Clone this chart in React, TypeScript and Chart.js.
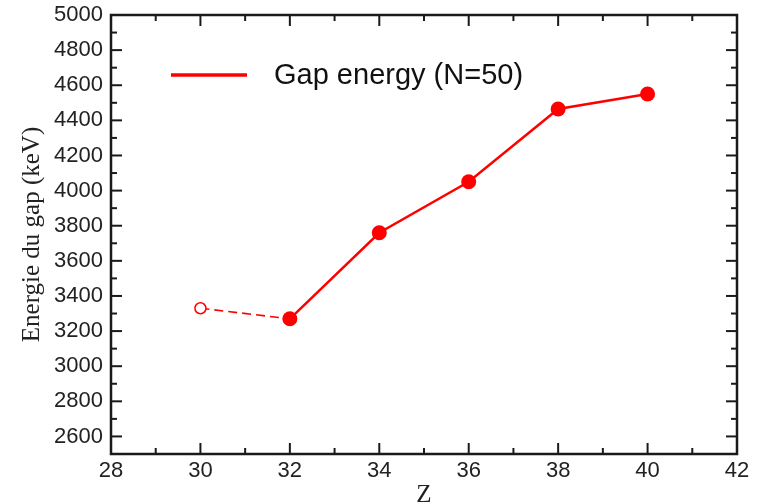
import React, { useEffect, useRef } from "react";
import { Chart, registerables } from "chart.js";

Chart.register(...registerables);

// ---- Data ----
const zValues = [30, 32, 34, 36, 38, 40];
const gapEnergies = [3330, 3270, 3760, 4050, 4465, 4550];
const openMarker = [true, false, false, false, false, false];
const seriesLabel = "Gap energy (N=50)";
const xTitle = "Z";
const yTitle = "Energie du gap (keV)";
const xMajorTicks = [28, 30, 32, 34, 36, 38, 40, 42];
const xMinorTicks = [29, 31, 33, 35, 37, 39, 41];
const yMajorTicks = [2600, 2800, 3000, 3200, 3400, 3600, 3800, 4000, 4200, 4400, 4600, 4800, 5000];
const yMinorTicks = [2700, 2900, 3100, 3300, 3500, 3700, 3900, 4100, 4300, 4500, 4700, 4900];

const RED = "#ff0000";
const SANS = "'Liberation Sans', Arial, sans-serif";
const SERIF = "'Liberation Serif', 'Times New Roman', serif";

const framePlugin = {
  id: "frame",
  beforeDatasetsDraw(chart: any) {
    const { ctx, chartArea, scales } = chart;
    const { left, right, top, bottom } = chartArea;
    const x = scales.x;
    const y = scales.y;
    ctx.save();
    ctx.strokeStyle = "#1a1a1a";
    ctx.lineWidth = 2;
    const seg = (x1: number, y1: number, x2: number, y2: number) => {
      ctx.beginPath();
      ctx.moveTo(x1, y1);
      ctx.lineTo(x2, y2);
      ctx.stroke();
    };
    const major = 11;
    const minor = 6;
    xMajorTicks.forEach((v) => {
      const p = x.getPixelForValue(v);
      seg(p, bottom, p, bottom - major);
      seg(p, top, p, top + major);
    });
    xMinorTicks.forEach((v) => {
      const p = x.getPixelForValue(v);
      seg(p, bottom, p, bottom - minor);
      seg(p, top, p, top + minor);
    });
    yMajorTicks.forEach((v) => {
      const p = y.getPixelForValue(v);
      seg(left, p, left + major, p);
      seg(right, p, right - major, p);
    });
    yMinorTicks.forEach((v) => {
      const p = y.getPixelForValue(v);
      seg(left, p, left + minor, p);
      seg(right, p, right - minor, p);
    });
    ctx.lineWidth = 2.5;
    ctx.strokeRect(left, top, right - left, bottom - top);
    ctx.restore();
  },
  afterDatasetsDraw(chart: any) {
    const { ctx, chartArea } = chart;
    const { left, top } = chartArea;
    ctx.save();
    const ly = top + 60;
    ctx.strokeStyle = RED;
    ctx.lineWidth = 3.5;
    ctx.beginPath();
    ctx.moveTo(left + 60, ly);
    ctx.lineTo(left + 136, ly);
    ctx.stroke();
    ctx.fillStyle = "#111";
    ctx.font = "29px " + SANS;
    ctx.textAlign = "left";
    ctx.textBaseline = "middle";
    ctx.fillText(chart.data.datasets[0].label, left + 163, ly + 1);
    ctx.restore();
  },
};

export default function App() {
  const canvasRef = useRef<HTMLCanvasElement | null>(null);

  useEffect(() => {
    document.body.style.margin = "0";
    const canvas = canvasRef.current;
    if (!canvas) return;
    const chart = new Chart(canvas, {
      type: "line",
      data: {
        datasets: [
          {
            label: seriesLabel,
            data: zValues.map((z, i) => ({ x: z, y: gapEnergies[i] })),
            borderColor: RED,
            borderWidth: 2.5,
            tension: 0,
            fill: false,
            pointRadius: openMarker.map((o) => (o ? 5.5 : 7.5)),
            pointBorderWidth: openMarker.map((o) => (o ? 1.5 : 0)),
            pointBackgroundColor: openMarker.map((o) => (o ? "#ffffff" : RED)),
            pointBorderColor: RED,
            pointHoverRadius: 7.5,
            segment: {
              borderDash: (c: any) => (openMarker[c.p0DataIndex] ? [9, 5] : undefined),
              borderWidth: (c: any) => (openMarker[c.p0DataIndex] ? 1.6 : undefined),
            },
          } as any,
        ],
      },
      options: {
        responsive: false,
        animation: false,
        layout: { padding: { left: 0, top: 15, right: 24, bottom: 0 } },
        plugins: {
          legend: { display: false },
          tooltip: { enabled: false },
        },
        scales: {
          x: {
            type: "linear",
            min: 28,
            max: 42,
            grid: { display: false, drawTicks: false },
            border: { display: false },
            afterBuildTicks: (s: any) => {
              s.ticks = xMajorTicks.map((v) => ({ value: v }));
            },
            afterFit: (s: any) => {
              s.height = 50;
              s.paddingLeft = 0;
              s.paddingRight = 0;
            },
            ticks: {
              autoSkip: false,
              maxRotation: 0,
              padding: 4,
              color: "#222",
              callback: (v: any) => String(v),
              font: { family: SANS, size: 22 },
            },
            title: {
              display: true,
              text: xTitle,
              color: "#222",
              font: { family: SERIF, size: 25, lineHeight: 1.2 },
              padding: { top: 0, bottom: -6 },
            },
          },
          y: {
            type: "linear",
            min: 2500,
            max: 5000,
            grid: { display: false, drawTicks: false },
            border: { display: false },
            afterBuildTicks: (s: any) => {
              s.ticks = yMajorTicks.map((v) => ({ value: v }));
            },
            afterFit: (s: any) => {
              s.width = 111;
              s.paddingTop = 0;
              s.paddingBottom = 0;
            },
            ticks: {
              autoSkip: false,
              padding: 8,
              color: "#222",
              callback: (v: any) => String(v),
              font: { family: SANS, size: 22 },
            },
            title: {
              display: true,
              text: yTitle,
              color: "#222",
              font: { family: SERIF, size: 25, lineHeight: 1.2 },
              padding: { top: 17, bottom: 0 },
            },
          },
        },
      },
      plugins: [framePlugin],
    });
    return () => chart.destroy();
  }, []);

  return (
    <div style={{ width: 761, height: 504, background: "#fff" }}>
      <canvas ref={canvasRef} width={761} height={504} style={{ display: "block" }} />
    </div>
  );
}
